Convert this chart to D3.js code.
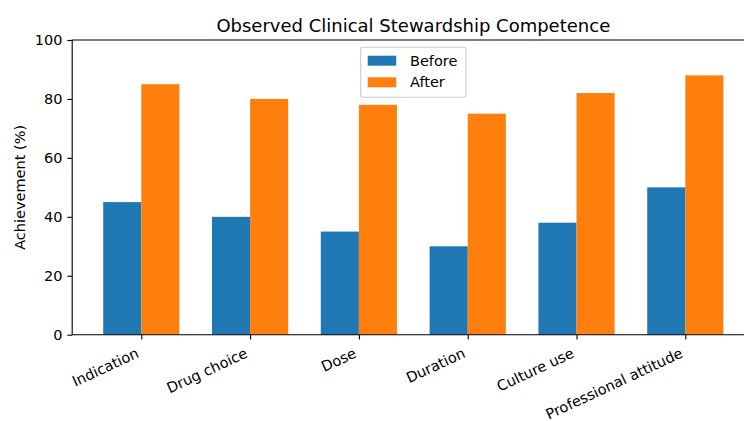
<!DOCTYPE html>
<html>
<head>
<meta charset="utf-8">
<script src="https://cdn.jsdelivr.net/npm/d3@7"></script>
<style>
  body { margin: 0; background: #fff; }
  svg { display: block; font-family: "DejaVu Sans", sans-serif; }
</style>
</head>
<body>
<div id="chart"></div>
<script>
// data
const categories = ['Indication', 'Drug choice', 'Dose', 'Duration', 'Culture use', 'Professional attitude'];
const before = [45, 40, 35, 30, 38, 50];
const after = [85, 80, 78, 75, 82, 88];
const seriesNames = ['Before', 'After'];
const yTicks = [0, 20, 40, 60, 80, 100];

const width = 744, height = 421;
const margin = {top: 40, left: 72.2};
const plotRight = 754.4, plotBottom = 334.7;
const colors = ['#1f77b4', '#ff7f0e'];
const barW = 0.35;
const fs = 14.5;

const svg = d3.select('#chart').append('svg')
    .attr('width', width)
    .attr('height', height);

// matplotlib-like limits: bars span -0.35..5.35 plus 5% margin
const x = d3.scaleLinear()
    .domain([-0.635, categories.length - 1 + 0.635])
    .range([margin.left, plotRight]);
const y = d3.scaleLinear()
    .domain([0, 100])
    .range([plotBottom, margin.top]);

const rows = categories.map((c, i) => ({cat: c, i: i, vals: [before[i], after[i]]}));

// bars
const groups = svg.selectAll('.grp')
    .data(rows)
  .join('g')
    .attr('class', 'grp');

groups.selectAll('rect')
    .data(d => d.vals.map((v, k) => ({i: d.i, k: k, v: v})))
  .join('rect')
    .attr('x', d => x(d.i + (d.k === 0 ? -barW : 0)))
    .attr('width', d => x(barW) - x(0))
    .attr('y', d => y(d.v))
    .attr('height', d => y(0) - y(d.v))
    .attr('fill', d => colors[d.k]);

// axes
const yAxis = d3.axisLeft(y).tickValues(yTicks).tickSize(4.9).tickPadding(4.9);
const gy = svg.append('g')
    .attr('transform', `translate(${margin.left},0)`)
    .call(yAxis);
gy.select('.domain').remove();

const xAxis = d3.axisBottom(x).tickValues(d3.range(categories.length)).tickSize(4.9).tickFormat('');
const gx = svg.append('g')
    .attr('transform', `translate(0,${plotBottom})`)
    .call(xAxis);
gx.select('.domain').remove();

[gx, gy].forEach(g => {
  g.selectAll('line').attr('stroke', '#000').attr('stroke-width', 1.1);
  g.selectAll('text').attr('font-size', fs).attr('fill', '#000').attr('font-family', '"DejaVu Sans", sans-serif');
});

// spines: left, top, bottom (right spine falls outside the picture)
svg.append('path')
    .attr('d', `M${plotRight},${margin.top}H${margin.left}V${plotBottom}H${plotRight}`)
    .attr('fill', 'none')
    .attr('stroke', '#000')
    .attr('stroke-width', 1.1);

// rotated x tick labels (rotation 25, ha right)
const h = fs * 1.164;
svg.append('g').selectAll('text')
    .data(categories)
  .join('text')
    .attr('transform', (d, i) => `translate(${x(i)},${plotBottom + 9.8 + 0.906 * h}) rotate(-25)`)
    .attr('text-anchor', 'end')
    .attr('dy', -0.236 * fs)
    .attr('font-size', fs)
    .attr('fill', '#000')
    .text(d => d);

// y label
svg.append('text')
    .attr('transform', `translate(25,${(margin.top + plotBottom) / 2}) rotate(-90)`)
    .attr('text-anchor', 'middle')
    .attr('font-size', fs)
    .attr('fill', '#000')
    .text('Achievement (%)');

// title
svg.append('text')
    .attr('x', (margin.left + plotRight) / 2)
    .attr('y', 31.5)
    .attr('text-anchor', 'middle')
    .attr('font-size', 18)
    .attr('fill', '#000')
    .text('Observed Clinical Stewardship Competence');

// legend, upper center
const legend = svg.append('g');
legend.append('rect')
    .attr('x', 360.7).attr('y', 47.3)
    .attr('width', 105.3).attr('height', 50)
    .attr('rx', 2.5)
    .attr('fill', '#fff').attr('fill-opacity', 0.8)
    .attr('stroke', '#ccc').attr('stroke-width', 1.1);

const items = legend.selectAll('.item')
    .data(seriesNames)
  .join('g')
    .attr('class', 'item')
    .attr('transform', (d, i) => `translate(367.7,${60.7 + i * 21.6})`);
items.append('rect')
    .attr('x', 0).attr('y', -5)
    .attr('width', 28.5).attr('height', 10)
    .attr('fill', (d, i) => colors[i]);
items.append('text')
    .attr('x', 42.3)
    .attr('dy', '0.35em')
    .attr('font-size', fs)
    .attr('fill', '#000')
    .text(d => d);
</script>
</body>
</html>
